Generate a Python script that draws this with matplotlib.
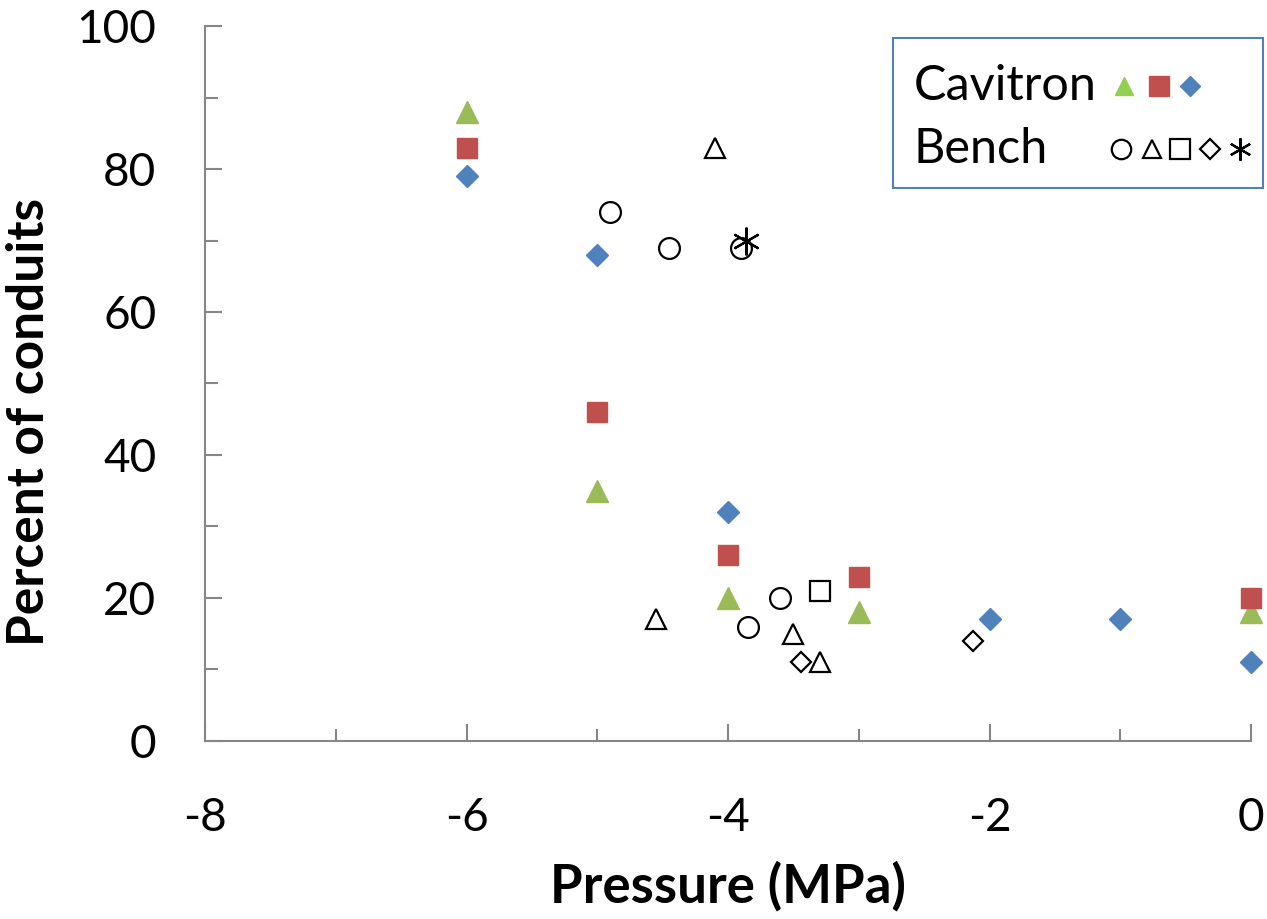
import matplotlib
matplotlib.use('Agg')
import matplotlib.pyplot as plt
from matplotlib.patches import Rectangle

plt.rcParams['font.family'] = ['Lato', 'DejaVu Sans']
plt.rcParams['axes.unicode_minus'] = False

# Cavitron series
cav_tri_x = [-6, -5, -4, -3, 0]
cav_tri_y = [88, 35, 20, 18, 18]
cav_sq_x = [-6, -5, -4, -3, 0]
cav_sq_y = [83, 46, 26, 23, 20]
cav_dia_x = [-6, -5, -4, -2, -1, 0]
cav_dia_y = [79, 68, 32, 17, 17, 11]

# Bench series
bench_circ_x = [-4.90, -4.45, -3.90, -3.60, -3.85]
bench_circ_y = [74, 69, 69, 20, 16]
bench_tri_x = [-4.10, -4.55, -3.50, -3.30]
bench_tri_y = [83, 17, 15, 11]
bench_sq_x = [-3.30]
bench_sq_y = [21]
bench_dia_x = [-3.44, -2.13]
bench_dia_y = [11, 14]
bench_ast_x = [-3.86]
bench_ast_y = [70]

GREEN = '#9BBB59'
RED = '#C0504D'
BLUE = '#4F81BD'
AXIS = '#868686'

fig = plt.figure(figsize=(12.67, 9.19), dpi=100)
ax = fig.add_axes([0.1618, 0.1937, 0.8256, 0.778])

ax.plot(cav_tri_x, cav_tri_y, '^', ms=16, color=GREEN, mec=GREEN, clip_on=False, zorder=3)
ax.plot(cav_sq_x, cav_sq_y, 's', ms=15, color=RED, mec=RED, clip_on=False, zorder=3)
ax.plot(cav_dia_x, cav_dia_y, 'D', ms=11.5, color=BLUE, mec=BLUE, clip_on=False, zorder=3)

open_kw = dict(mfc='none', mec='black', mew=1.6, linestyle='none', clip_on=False, zorder=3)
ax.plot(bench_circ_x, bench_circ_y, 'o', ms=15, **open_kw)
ax.plot(bench_tri_x, bench_tri_y, '^', ms=15, **open_kw)
ax.plot(bench_sq_x, bench_sq_y, 's', ms=15, **open_kw)
ax.plot(bench_dia_x, bench_dia_y, 'D', ms=10.5, **open_kw)
ax.plot(bench_ast_x, bench_ast_y, marker=(6, 2, 0), ms=20, **open_kw)

ax.set_xlim(-8, 0)
ax.set_ylim(0, 100)
ax.set_xticks(range(-8, 1, 2))
ax.set_xticks(range(-7, 0, 2), minor=True)
ax.set_yticks(range(0, 101, 20))
ax.set_yticks(range(10, 100, 20), minor=True)

for s in ['top', 'right']:
    ax.spines[s].set_visible(False)
for s in ['left', 'bottom']:
    ax.spines[s].set_color(AXIS)
    ax.spines[s].set_linewidth(1.5)

ax.tick_params(axis='both', which='both', direction='in', color=AXIS, width=1.5, labelsize=33)
ax.tick_params(axis='both', which='major', length=12)
ax.tick_params(axis='both', which='minor', length=9)
ax.tick_params(axis='x', which='major', pad=40)
ax.tick_params(axis='y', which='major', pad=35)

ax.set_xlabel('Pressure (MPa)', fontsize=38, fontweight='bold', labelpad=16)
ax.set_ylabel('Percent of conduits', fontsize=37, fontweight='bold')
ax.yaxis.set_label_coords(-0.145, 0.446)

# custom legend box
fig.patches.append(Rectangle((893 / 1267, 1 - 188 / 919), 370 / 1267, 150 / 919,
                             transform=fig.transFigure, fill=False,
                             edgecolor='#4F81BD', lw=1.5))
fig.text(914 / 1267, 1 - 86 / 919, 'Cavitron', fontsize=35, va='center', ha='left')
fig.text(914 / 1267, 1 - 149 / 919, 'Bench', fontsize=35, va='center', ha='left')

leg_y1 = 1 - 86 / 919
leg_y2 = 1 - 149 / 919
fig.add_artist(plt.Line2D([1124 / 1267], [leg_y1], marker='^', ms=13, color='#92D050',
                          linestyle='none', transform=fig.transFigure))
fig.add_artist(plt.Line2D([1159 / 1267], [leg_y1], marker='s', ms=14, color=RED,
                          linestyle='none', transform=fig.transFigure))
fig.add_artist(plt.Line2D([1190 / 1267], [leg_y1], marker='D', ms=10, color=BLUE,
                          linestyle='none', transform=fig.transFigure))
bench_leg = [('o', 1121, 14), ('^', 1152, 13), ('s', 1180, 14), ('D', 1210, 10), ((6, 2, 0), 1240, 16)]
for m, px, size in bench_leg:
    fig.add_artist(plt.Line2D([px / 1267], [leg_y2], marker=m, ms=size, mfc='none',
                              mec='black', mew=1.6, linestyle='none',
                              transform=fig.transFigure))

plt.savefig('out.png', dpi=100)
plt.close()
